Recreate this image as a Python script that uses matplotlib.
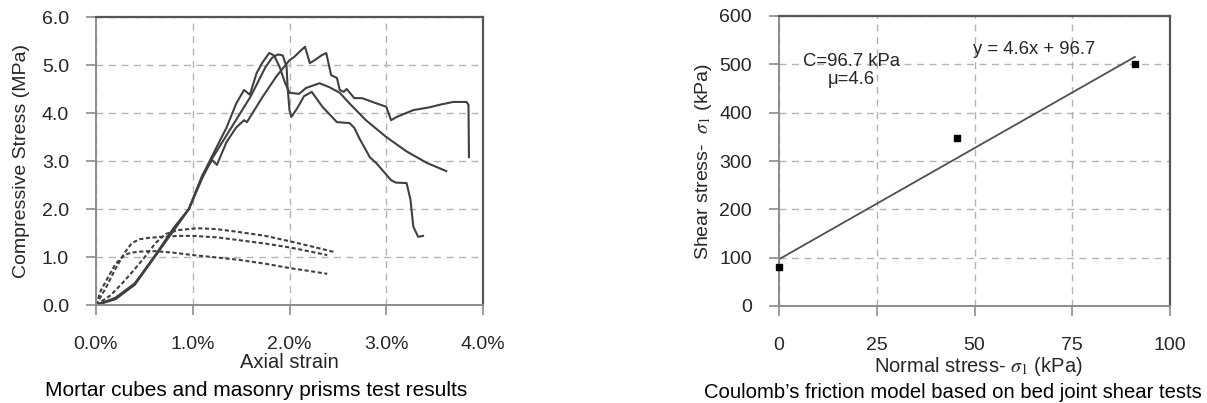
import numpy as np
import matplotlib
matplotlib.use('Agg')
import matplotlib.pyplot as plt
from matplotlib.patches import Rectangle

plt.rcParams['font.family'] = ['Liberation Sans', 'DejaVu Sans']
plt.rcParams['mathtext.fontset'] = 'stix'

# masonry prisms (solid), strain in %, stress in MPa
prism_a_x = [0, 0.2, 0.4, 0.6, 0.8, 0.96, 1.1, 1.2, 1.35, 1.45, 1.53, 1.59, 1.66, 1.72, 1.79, 1.84,
             1.9, 1.95, 2.0, 2.1, 2.17, 2.31, 2.41, 2.52, 2.62, 2.79, 3.0, 3.21, 3.42, 3.62]
prism_a_y = [0, 0.15, 0.45, 1.0, 1.6, 2.0, 2.7, 3.1, 3.7, 4.2, 4.48, 4.38, 4.83, 5.05, 5.25, 5.2,
             4.95, 4.65, 4.42, 4.4, 4.52, 4.62, 4.54, 4.42, 4.2, 3.85, 3.5, 3.2, 2.96, 2.79]
prism_b_x = [0, 0.2, 0.4, 0.6, 0.8, 0.96, 1.1, 1.2, 1.4, 1.6, 1.75, 1.82, 1.88, 1.93, 1.97, 1.98,
             2.0, 2.02, 2.08, 2.15, 2.23, 2.34, 2.49, 2.62, 2.67, 2.72, 2.83, 2.9, 2.96, 3.05, 3.1,
             3.21, 3.25, 3.28, 3.33, 3.38]
prism_b_y = [0, 0.12, 0.42, 0.98, 1.55, 2.0, 2.65, 3.05, 3.7, 4.35, 4.95, 5.15, 5.22, 5.2, 4.96, 4.54,
             4.06, 3.92, 4.1, 4.35, 4.44, 4.13, 3.81, 3.79, 3.69, 3.48, 3.08, 2.95, 2.81, 2.6, 2.55,
             2.54, 2.2, 1.63, 1.42, 1.44]
prism_c_x = [0, 0.2, 0.4, 0.6, 0.8, 0.96, 1.1, 1.2, 1.25, 1.35, 1.45, 1.53, 1.56, 1.72, 1.86, 2.0,
             2.05, 2.1, 2.16, 2.21, 2.26, 2.33, 2.38, 2.43, 2.49, 2.52, 2.56, 2.59, 2.67, 2.75, 2.9,
             3.0, 3.05, 3.11, 3.28, 3.45, 3.55, 3.69, 3.83, 3.85, 3.855]
prism_c_y = [0, 0.13, 0.43, 1.0, 1.55, 2.0, 2.7, 3.02, 2.92, 3.4, 3.7, 3.85, 3.81, 4.33, 4.75, 5.1,
             5.17, 5.27, 5.38, 5.04, 5.1, 5.2, 5.25, 4.79, 4.73, 4.48, 4.44, 4.5, 4.31, 4.31, 4.2,
             4.13, 3.85, 3.92, 4.06, 4.12, 4.17, 4.23, 4.23, 4.17, 3.08]

# mortar cubes (dashed)
mortar_e_x = [0, 0.05, 0.13, 0.2, 0.27, 0.33, 0.4, 0.5, 0.62, 0.8, 1.0, 1.25, 1.48, 1.75, 2.0, 2.2, 2.39]
mortar_e_y = [0, 0.3, 0.6, 0.85, 1.0, 1.07, 1.1, 1.12, 1.12, 1.09, 1.04, 0.99, 0.94, 0.86, 0.77, 0.71, 0.65]
mortar_f_x = [0, 0.1, 0.2, 0.3, 0.37, 0.45, 0.55, 0.68, 0.85, 1.0, 1.25, 1.48, 1.75, 2.0, 2.2, 2.39]
mortar_f_y = [0, 0.35, 0.75, 1.1, 1.29, 1.37, 1.4, 1.42, 1.44, 1.44, 1.41, 1.35, 1.28, 1.2, 1.12, 1.04]
mortar_g_x = [0, 0.15, 0.27, 0.38, 0.48, 0.55, 0.62, 0.72, 0.85, 1.05, 1.25, 1.48, 1.75, 2.0, 2.25, 2.47]
mortar_g_y = [0, 0.2, 0.45, 0.7, 0.94, 1.12, 1.3, 1.48, 1.56, 1.6, 1.58, 1.52, 1.44, 1.33, 1.21, 1.1]

# bed joint shear tests
normal_stress = [0, 45.5, 91]
shear_stress = [80, 347, 500]
fit_slope = 4.6
fit_intercept = 96.7
fit_x = [0, 91]

DARK = '#404040'
GRID = '#b4b4b4'
AXIS = '#8c8c8c'
TXT = '#262626'

fig = plt.figure(figsize=(12.07, 4.03), dpi=100)
ax1 = fig.add_axes([96 / 1207, 98 / 403, 387 / 1207, 288 / 403])
ax2 = fig.add_axes([779 / 1207, 97 / 403, 391 / 1207, 290 / 403])


def style_axes(ax):
	ax.grid(True, color=GRID, linestyle=(0, (5, 4)), linewidth=1.0)
	ax.set_axisbelow(True)
	for s in ['top', 'right']:
		ax.spines[s].set_color('#555555')
		ax.spines[s].set_linewidth(1.6)
	for s in ['left', 'bottom']:
		ax.spines[s].set_color(AXIS)
		ax.spines[s].set_linewidth(1.4)
	ax.tick_params(axis='both', direction='out', length=7, width=1.2, color=AXIS,
				   labelsize=14, labelcolor=TXT)
	ax.tick_params(axis='x', pad=15.5)
	ax.tick_params(axis='y', pad=12.5)


# left: stress-strain
for xs, ys in [(prism_a_x, prism_a_y), (prism_b_x, prism_b_y), (prism_c_x, prism_c_y)]:
	ax1.plot(xs, ys, color=DARK, linewidth=1.5, solid_joinstyle='round')
for xs, ys in [(mortar_e_x, mortar_e_y), (mortar_f_x, mortar_f_y), (mortar_g_x, mortar_g_y)]:
	ax1.plot(xs, ys, color=DARK, linewidth=1.5, linestyle=(0, (2.0, 1.2)))
ax1.set_xlim(0, 4)
ax1.set_ylim(0, 6)
ax1.set_xticks(np.arange(0, 4.01, 1.0))
ax1.set_yticks(np.arange(0, 6.01, 1.0))
ax1.set_xticklabels(['{:.1f}%'.format(v) for v in np.arange(0, 4.01, 1.0)])
ax1.set_yticklabels(['{:.1f}'.format(v) for v in np.arange(0, 6.01, 1.0)])
style_axes(ax1)
ax1.text(0.5, -0.2, 'Axial strain', transform=ax1.transAxes, ha='center', va='center',
		 fontsize=14.5, color=TXT)
ax1.text(-0.193, 0.5, 'Compressive Stress (MPa)', transform=ax1.transAxes, ha='center',
		 va='center', rotation=90, fontsize=14, color=TXT)

# right: Coulomb friction
line_y = [fit_slope * x + fit_intercept for x in fit_x]
ax2.plot(fit_x, line_y, color='#505050', linewidth=1.3)
ax2.scatter(normal_stress, shear_stress, marker='s', s=18, color='black', zorder=3,
			clip_on=False)
ax2.set_xlim(0, 100)
ax2.set_ylim(0, 600)
ax2.set_xticks([0, 25, 50, 75, 100])
ax2.set_yticks(np.arange(0, 601, 100))
style_axes(ax2)
ax2.text(0.51, -0.21, r'Normal stress- $\sigma_1$ (kPa)', transform=ax2.transAxes,
		 ha='center', va='center', fontsize=14.5, color=TXT)
ax2.text(-0.192, 0.5, r'Shear stress-  $\sigma_1$ (kPa)', transform=ax2.transAxes,
		 ha='center', va='center', rotation=90, fontsize=14, color=TXT)
ax2.text(6.1, 505, 'C=96.7 kPa', ha='left', va='center', fontsize=13.3, color=TXT)
ax2.text(12.5, 468, u'\u03bc=4.6', ha='left', va='center', fontsize=13.3, color=TXT)
ax2.text(49.6, 530, 'y = 4.6x + 96.7', ha='left', va='center', fontsize=13.3, color=TXT)

# white band under the left chart that cuts off the bottom of its x label, then captions
fig.patches.append(Rectangle((0, 0), 0.5, 35 / 403, transform=fig.transFigure,
							 facecolor='white', edgecolor='none', zorder=5))
fig.text(256 / 1207, 1 - 390 / 403, 'Mortar cubes and masonry prisms test results',
		 ha='center', va='center', fontsize=15, color='black', zorder=6)
fig.text(953 / 1207, 1 - 392 / 403, u'Coulomb\u2019s friction model based on bed joint shear tests',
		 ha='center', va='center', fontsize=14.6, color='black', zorder=6)

fig.savefig('out.png', dpi=100)
plt.close()
